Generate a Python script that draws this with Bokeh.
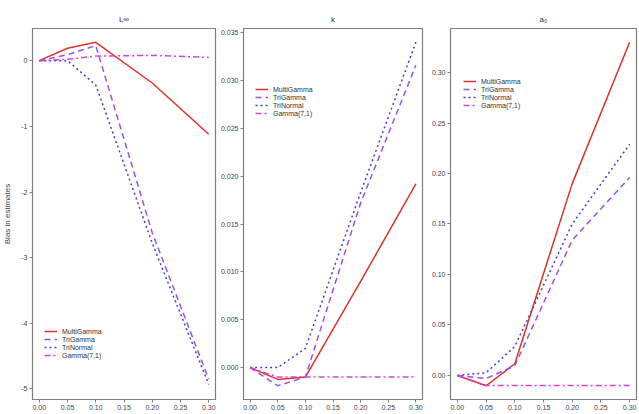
from bokeh.plotting import figure
from bokeh.layouts import row
from bokeh.models import FixedTicker, Legend, LegendItem, Range1d
from bokeh.embed import file_html
from bokeh.resources import INLINE

# ---- data ----
x_vals = [0.0, 0.05, 0.10, 0.20, 0.30]
series_names = ["MultiGamma", "TriGamma", "TriNormal", "Gamma(7,1)"]

linf_multigamma = [0.0, 0.19, 0.28, -0.34, -1.12]
linf_trigamma = [0.0, 0.09, 0.23, -2.62, -4.85]
linf_trinormal = [0.0, 0.0, -0.37, -2.78, -4.93]
linf_gamma71 = [0.0, 0.02, 0.07, 0.08, 0.05]

k_multigamma = [0.0, -0.00124, -0.001, 0.009, 0.0192]
k_trigamma = [0.0, -0.0019, -0.001, 0.0172, 0.0316]
k_trinormal = [0.0, 0.0, 0.002, 0.0183, 0.034]
k_gamma71 = [0.0, -0.001, -0.001, -0.001, -0.001]

a0_multigamma = [0.0, -0.0102, 0.0116, 0.19, 0.33]
a0_trigamma = [0.0, -0.003, 0.0096, 0.134, 0.196]
a0_trinormal = [0.0, 0.0027, 0.0287, 0.15, 0.229]
a0_gamma71 = [0.0, -0.0099, -0.0099, -0.0099, -0.0099]

x_ticks = [0.0, 0.05, 0.10, 0.15, 0.20, 0.25, 0.30]
linf_ticks = [0, -1, -2, -3, -4, -5]
k_ticks = [0.0, 0.005, 0.010, 0.015, 0.020, 0.025, 0.030, 0.035]
a0_ticks = [0.0, 0.05, 0.10, 0.15, 0.20, 0.25, 0.30]

titles = ["L\u221e", "k", "a\u2080"]

# ---- styling ----
FONT = "Liberation Sans"
colors = ["#DC3228", "#9B50E6", "#4040CC", "#E03CE0"]
dashes = ["solid", "6 4", "2 3", "6 3 2 3"]
GRAY = "#7f7f7f"
TXT = "#444444"


def make_panel(title, ys, ticks, yfmt, yr, width, left, right, legend_loc, ylabel=None):
    p = figure(width=width, height=414, output_backend="svg", toolbar_location=None,
               x_range=Range1d(-0.012, 0.312), y_range=Range1d(*yr),
               min_border_left=left, min_border_right=right,
               min_border_top=28, min_border_bottom=15)
    p.title.text = title
    p.title.align = "center"
    p.title.text_font = FONT
    p.title.text_font_size = "8px"
    p.title.text_font_style = "normal"
    p.title.text_color = "#333333"
    p.grid.visible = False
    p.outline_line_color = GRAY
    p.outline_line_width = 1.2
    p.background_fill_color = "white"
    p.border_fill_color = "white"
    for ax in (p.xaxis[0], p.yaxis[0]):
        ax.axis_line_color = GRAY
        ax.major_tick_line_color = GRAY
        ax.minor_tick_line_color = None
        ax.major_tick_out = 3
        ax.major_tick_in = 0
        ax.major_label_text_font = FONT
        ax.major_label_text_font_size = "7px"
        ax.major_label_text_color = TXT
        ax.major_label_standoff = 2
    p.xaxis.ticker = FixedTicker(ticks=x_ticks)
    p.xaxis.major_label_overrides = {t: f"{t:.2f}" for t in x_ticks}
    p.yaxis.ticker = FixedTicker(ticks=ticks)
    p.yaxis.major_label_overrides = {t: yfmt(t) for t in ticks}
    p.yaxis.major_label_orientation = "horizontal"
    if ylabel:
        p.yaxis.axis_label = ylabel
        p.yaxis.axis_label_text_font = FONT
        p.yaxis.axis_label_text_font_size = "8px"
        p.yaxis.axis_label_text_font_style = "normal"
        p.yaxis.axis_label_text_color = TXT
        p.yaxis.axis_label_standoff = 6

    items = []
    for name, y, c, d in zip(series_names, ys, colors, dashes):
        r = p.line(x_vals, y, line_color=c, line_width=1.5, line_dash=d)
        items.append(LegendItem(label=name, renderers=[r]))
    leg = Legend(items=items, location=legend_loc, border_line_color=None,
                 background_fill_alpha=0, padding=0, spacing=0, margin=0,
                 glyph_width=13, glyph_height=8, label_height=8,
                 label_standoff=5, label_text_font=FONT,
                 label_text_font_size="7px", label_text_color="#333333")
    p.add_layout(leg, "center")
    return p


p1 = make_panel(titles[0], [linf_multigamma, linf_trigamma, linf_trinormal, linf_gamma71],
                linf_ticks, lambda t: f"{t:d}", (-5.16, 0.49), 217, 30, 2, (12, 40),
                ylabel="Bias in estimates")
p2 = make_panel(titles[1], [k_multigamma, k_trigamma, k_trinormal, k_gamma71],
                k_ticks, lambda t: f"{t:.3f}", (-0.00334, 0.03544), 207, 24, 2, (12, 282))
p3 = make_panel(titles[2], [a0_multigamma, a0_trigamma, a0_trinormal, a0_gamma71],
                a0_ticks, lambda t: f"{t:.2f}", (-0.0238, 0.3436), 215, 26, 3, (13, 290))

layout = row(p1, p2, p3)
open("out.html", "w").write(file_html(layout, INLINE))
